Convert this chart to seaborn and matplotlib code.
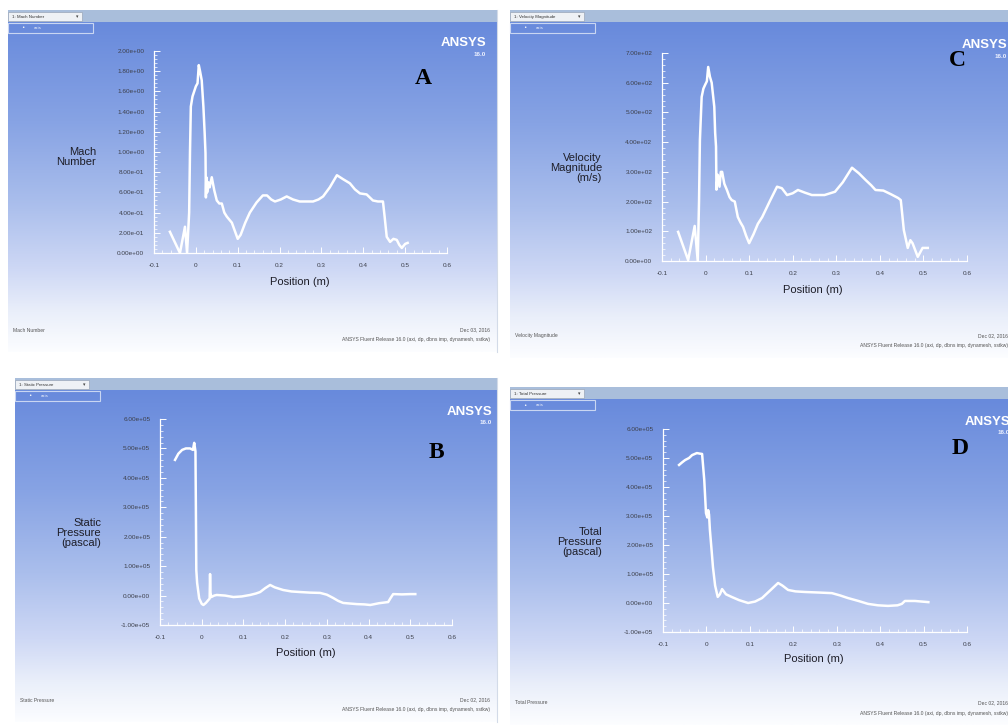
import numpy as np
import pandas as pd
import matplotlib
matplotlib.use("Agg")
import matplotlib.pyplot as plt
import seaborn as sns
from matplotlib.colors import LinearSegmentedColormap
from matplotlib.patches import Rectangle
from matplotlib.ticker import AutoMinorLocator, FixedLocator, FixedFormatter

# ---------------- data ----------------
mach_x = [-0.062, -0.038, -0.026, -0.021, -0.016, -0.014, -0.012, -0.008, -0.004, 0.000,
          0.004, 0.007, 0.010, 0.014, 0.018, 0.021, 0.023, 0.024, 0.025, 0.027,
          0.030, 0.033, 0.038, 0.044, 0.050, 0.056, 0.062, 0.068, 0.074, 0.080,
          0.086, 0.093, 0.100, 0.107, 0.118, 0.129, 0.145, 0.160, 0.170, 0.180,
          0.189, 0.203, 0.217, 0.232, 0.248, 0.265, 0.280, 0.293, 0.304, 0.320,
          0.337, 0.352, 0.368, 0.380, 0.392, 0.408, 0.423, 0.435, 0.447, 0.451,
          0.456, 0.464, 0.472, 0.480, 0.486, 0.492, 0.500, 0.506]
mach_y = [0.21, 0.00, 0.26, 0.00, 0.40, 1.00, 1.45, 1.55, 1.60, 1.65,
          1.68, 1.86, 1.80, 1.71, 1.45, 1.19, 0.99, 0.55, 0.75, 0.60,
          0.70, 0.65, 0.75, 0.62, 0.52, 0.49, 0.49, 0.40, 0.36, 0.33,
          0.30, 0.22, 0.14, 0.18, 0.30, 0.40, 0.50, 0.57, 0.57, 0.53,
          0.51, 0.53, 0.56, 0.53, 0.51, 0.51, 0.51, 0.53, 0.56, 0.65,
          0.77, 0.73, 0.69, 0.63, 0.59, 0.58, 0.52, 0.51, 0.51, 0.36,
          0.16, 0.11, 0.14, 0.13, 0.08, 0.05, 0.09, 0.10]

vel_x = [-0.063, -0.040, -0.025, -0.018, -0.015, -0.013, -0.009, -0.005, -0.001, 0.003,
         0.006, 0.010, 0.014, 0.020, 0.022, 0.024, 0.025, 0.028, 0.032, 0.035,
         0.038, 0.043, 0.049, 0.055, 0.060, 0.067, 0.074, 0.080, 0.086, 0.093,
         0.100, 0.110, 0.120, 0.130, 0.147, 0.164, 0.175, 0.187, 0.200, 0.212,
         0.228, 0.244, 0.258, 0.273, 0.297, 0.315, 0.336, 0.352, 0.367, 0.380,
         0.390, 0.408, 0.425, 0.442, 0.448, 0.452, 0.455, 0.464, 0.470, 0.475,
         0.487, 0.498, 0.510]
vel_y = [98, 3, 118, 0, 200, 407, 552, 580, 593, 605,
         653, 620, 600, 519, 431, 385, 240, 290, 250, 300,
         300, 260, 239, 215, 205, 200, 148, 130, 115, 85,
         60, 90, 125, 148, 200, 250, 245, 222, 228, 239,
         230, 222, 222, 222, 233, 265, 314, 295, 273, 255,
         239, 237, 225, 212, 205, 148, 104, 44, 70, 60,
         14, 44, 44]

# static pressure, in units of 1e5 Pa
sp_x = [-0.064, -0.056, -0.047, -0.038, -0.028, -0.021, -0.018, -0.015, -0.014, -0.013,
        -0.011, -0.006, 0.000, 0.004, 0.010, 0.016, 0.019, 0.020, 0.021, 0.023,
        0.030, 0.036, 0.056, 0.076, 0.096, 0.116, 0.130, 0.140, 0.152, 0.164,
        0.175, 0.195, 0.215, 0.236, 0.260, 0.284, 0.300, 0.315, 0.327, 0.339,
        0.355, 0.372, 0.390, 0.404, 0.425, 0.447, 0.452, 0.459, 0.480, 0.500,
        0.512]
sp_y = [4.61, 4.82, 4.95, 5.00, 5.00, 4.95, 5.19, 4.90, 3.00, 0.87,
        0.43, -0.10, -0.28, -0.32, -0.25, -0.15, -0.10, 0.73, 0.10, -0.05,
        0.00, 0.02, 0.00, -0.05, -0.03, 0.02, 0.07, 0.12, 0.25, 0.36,
        0.28, 0.19, 0.14, 0.12, 0.10, 0.09, 0.03, -0.08, -0.18, -0.25,
        -0.27, -0.29, -0.30, -0.32, -0.26, -0.22, -0.10, 0.05, 0.04, 0.05,
        0.05]

# total pressure, in units of 1e5 Pa
tp_x = [-0.063, -0.056, -0.049, -0.040, -0.033, -0.022, -0.015, -0.010, -0.005, -0.001,
        0.002, 0.004, 0.006, 0.008, 0.012, 0.015, 0.020, 0.026, 0.031, 0.036,
        0.045, 0.058, 0.075, 0.096, 0.112, 0.128, 0.148, 0.165, 0.175, 0.188,
        0.205, 0.227, 0.260, 0.289, 0.308, 0.326, 0.350, 0.372, 0.395, 0.418,
        0.440, 0.450, 0.457, 0.480, 0.511]
tp_y = [4.76, 4.85, 4.93, 5.00, 5.10, 5.17, 5.15, 5.14, 4.24, 3.10,
        2.95, 3.20, 3.05, 2.52, 1.80, 1.24, 0.60, 0.21, 0.30, 0.48,
        0.30, 0.21, 0.10, 0.00, 0.05, 0.17, 0.45, 0.69, 0.60, 0.45,
        0.40, 0.38, 0.36, 0.34, 0.26, 0.17, 0.07, -0.03, -0.08, -0.10,
        -0.08, -0.03, 0.07, 0.07, 0.03]

x_ticks = [-0.1, 0.0, 0.1, 0.2, 0.3, 0.4, 0.5, 0.6]
x_tick_labels = ["-0.1", "0", "0.1", "0.2", "0.3", "0.4", "0.5", "0.6"]
mach_ticks = [0.0, 0.2, 0.4, 0.6, 0.8, 1.0, 1.2, 1.4, 1.6, 1.8, 2.0]
vel_ticks = [0, 100, 200, 300, 400, 500, 600, 700]
pres_ticks = [-1e5, 0, 1e5, 2e5, 3e5, 4e5, 5e5, 6e5]

# ---------------- figure ----------------
W, H = 1008, 726
fig = plt.figure(figsize=(W / 100, H / 100), dpi=100, facecolor="white")
base = fig.add_axes([0, 0, 1, 1])
base.set_xlim(0, W)
base.set_ylim(H, 0)
base.axis("off")

grad_cmap = LinearSegmentedColormap.from_list(
    "ansys",
    [(0.00, (104/255, 138/255, 220/255)),
     (0.30, (135/255, 163/255, 228/255)),
     (0.55, (170/255, 190/255, 236/255)),
     (0.75, (206/255, 216/255, 245/255)),
     (0.88, (234/255, 239/255, 250/255)),
     (1.00, (252/255, 253/255, 255/255))])
grad = np.linspace(0, 1, 256).reshape(-1, 1)

SANS = "Liberation Sans"


def fig_rect(x0, y0, x1, y1):
    return [x0 / W, 1 - y1 / H, (x1 - x0) / W, (y1 - y0) / H]


def draw_frame(fx0, fy0, fx1, fy1, title, bottom_name, date):
    hdr = 12
    base.imshow(grad, cmap=grad_cmap, aspect="auto",
                extent=(fx0, fx1, fy1, fy0 + hdr), zorder=0)
    base.add_patch(Rectangle((fx0, fy0), fx1 - fx0, hdr, facecolor="#a9bedb",
                             edgecolor="none", zorder=1))
    base.add_patch(Rectangle((fx0, fy0 + 2), 74, 9, facecolor="#eef1f5",
                             edgecolor="#9aa6b8", lw=0.5, zorder=2))
    base.text(fx0 + 4, fy0 + 6.8, "1: " + title, fontsize=3.2, color="#333333",
              va="center", ha="left", family=SANS, zorder=3)
    base.text(fx0 + 69, fy0 + 6.8, "\u25be", fontsize=3.5, color="#444444",
              va="center", ha="center", zorder=3)
    base.add_patch(Rectangle((fx0, fy0 + hdr + 1), 85, 10, facecolor="none",
                             edgecolor="#c9d6f2", lw=0.8, zorder=2))
    base.text(fx0 + 15, fy0 + hdr + 6, "\u2022", fontsize=4, color="white",
              va="center", ha="center", zorder=3)
    base.text(fx0 + 26, fy0 + hdr + 6, "axis", fontsize=3.2, color="#eef2fc",
              va="center", ha="left", family=SANS, zorder=3)
    base.plot([fx1, fx1], [fy0, fy1], color="#d3dbe8", lw=0.8, zorder=2)
    base.text(fx0 + 5, fy1 - 22, bottom_name, fontsize=3.6, color="#555555",
              va="center", ha="left", family=SANS, zorder=3)
    base.text(fx1 - 7, fy1 - 22, date, fontsize=3.6, color="#555555",
              va="center", ha="right", family=SANS, zorder=3)
    base.text(fx1 - 7, fy1 - 12,
              "ANSYS Fluent Release 16.0 (axi, dp, dbns imp, dynamesh, sstkw)",
              fontsize=3.6, color="#555555", va="center", ha="right",
              family=SANS, zorder=3)


def draw_plot(ax_box, xs, ys, yticks, ylim, ylabel, lbl_x, lbl_y, pos_x, pos_y):
    ax = fig.add_axes(fig_rect(*ax_box))
    ax.patch.set_alpha(0)
    df = pd.DataFrame({"x": xs, "y": ys})
    sns.lineplot(data=df, x="x", y="y", sort=False, estimator=None,
                 color="white", lw=1.8, ax=ax)
    ax.set_xlim(-0.1, 0.6)
    ax.set_ylim(*ylim)
    ax.xaxis.set_major_locator(FixedLocator(x_ticks))
    ax.xaxis.set_major_formatter(FixedFormatter(x_tick_labels))
    ax.yaxis.set_major_locator(FixedLocator(yticks))
    ax.yaxis.set_major_formatter(FixedFormatter([f"{v:.2e}" for v in yticks]))
    ax.xaxis.set_minor_locator(AutoMinorLocator(5))
    ax.yaxis.set_minor_locator(AutoMinorLocator(5))
    for s in ("top", "right"):
        ax.spines[s].set_visible(False)
    for s in ("left", "bottom"):
        ax.spines[s].set_color("white")
        ax.spines[s].set_linewidth(0.9)
    ax.tick_params(which="major", direction="in", length=4, width=0.7,
                   color="white", labelsize=4.6, labelcolor="#3c3f4a", pad=7)
    ax.tick_params(which="minor", direction="in", length=2, width=0.5, color="white")
    for t in ax.get_xticklabels() + ax.get_yticklabels():
        t.set_family(SANS)
    ax.set_xlabel("")
    ax.set_ylabel("")
    base.text(lbl_x, lbl_y, ylabel, fontsize=8, color="#1e1e28", ha="right",
              va="center", multialignment="right", linespacing=0.95, family=SANS)
    base.text(pos_x, pos_y, "Position (m)", fontsize=8, color="#1e1e28",
              ha="center", va="center", family=SANS)
    return ax


def logo(x_right, y, letter, lx, ly):
    base.text(x_right, y, "ANSYS", fontsize=9.5, weight="bold", color="white",
              ha="right", va="center", family=SANS, zorder=4)
    base.text(x_right, y + 11, "16.0", fontsize=4.5, weight="bold",
              color="#eef2ff", ha="right", va="center", family=SANS, zorder=4)
    base.text(lx, ly, letter, fontsize=17, weight="bold", color="black",
              ha="center", va="center", family="Liberation Serif", zorder=5)


# Panel A: Mach number
draw_frame(8, 10, 497, 352, "Mach Number", "Mach Number", "Dec 03, 2016")
draw_plot((154, 51, 447, 253), mach_x, mach_y, mach_ticks, (0, 2.0),
          "Mach\nNumber", 96, 157, 300, 282)
logo(486, 43, "A", 423, 79)

# Panel C: velocity magnitude
draw_frame(510, 10, 1015, 358, "Velocity Magnitude", "Velocity Magnitude", "Dec 02, 2016")
draw_plot((662, 53, 967, 261), vel_x, vel_y, vel_ticks, (0, 700),
          "Velocity\nMagnitude\n(m/s)", 602, 168, 813, 290)
logo(1007, 45, "C", 957, 61)

# Panel B: static pressure
draw_frame(15, 378, 497, 722, "Static Pressure", "Static Pressure", "Dec 02, 2016")
draw_plot((160, 419, 452, 625), sp_x, [v * 1e5 for v in sp_y], pres_ticks, (-1e5, 6e5),
          "Static\nPressure\n(pascal)", 101, 533, 306, 653)
logo(492, 412, "B", 436, 452)

# Panel D: total pressure
draw_frame(510, 387, 1015, 725, "Total Pressure", "Total Pressure", "Dec 02, 2016")
draw_plot((663, 429, 967, 632), tp_x, [v * 1e5 for v in tp_y], pres_ticks, (-1e5, 6e5),
          "Total\nPressure\n(pascal)", 602, 542, 814, 659)
logo(1010, 422, "D", 960, 449)

fig.savefig("out.png", dpi=100, facecolor="white")
